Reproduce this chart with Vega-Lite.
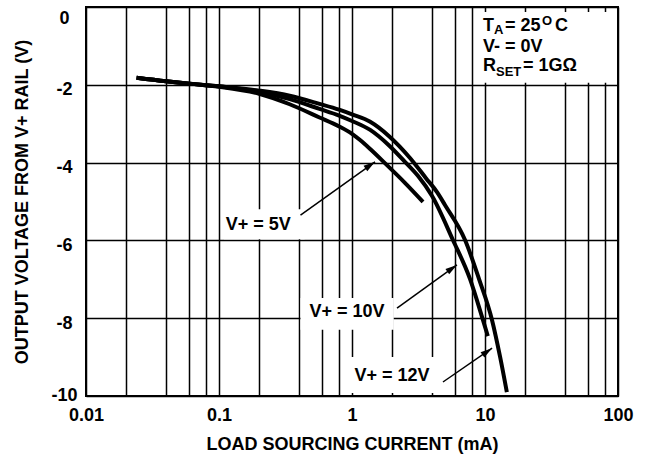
{
  "$schema": "https://vega.github.io/schema/vega-lite/v6.json",
  "width": 532,
  "height": 389,
  "autosize": "none",
  "padding": {"left": 86, "top": 7, "right": 28, "bottom": 62},
  "background": "white",
  "config": {
    "view": {"stroke": "black", "strokeWidth": 2},
    "font": "Liberation Sans"
  },
  "datasets": {
    "curves": [
      {"series": "12V", "x": 0.024, "y": -1.82}, {"series": "12V", "x": 0.04, "y": -1.91}, {"series": "12V", "x": 0.06, "y": -1.97}, {"series": "12V", "x": 0.1, "y": -2.04},
      {"series": "12V", "x": 0.2, "y": -2.15}, {"series": "12V", "x": 0.34, "y": -2.28}, {"series": "12V", "x": 0.57, "y": -2.49}, {"series": "12V", "x": 0.8, "y": -2.64}, {"series": "12V", "x": 1.0, "y": -2.76},
      {"series": "12V", "x": 1.37, "y": -2.95}, {"series": "12V", "x": 1.9, "y": -3.32}, {"series": "12V", "x": 2.73, "y": -3.88}, {"series": "12V", "x": 3.6, "y": -4.4}, {"series": "12V", "x": 4.36, "y": -4.76},
      {"series": "12V", "x": 5.0, "y": -5.09}, {"series": "12V", "x": 7.08, "y": -5.99}, {"series": "12V", "x": 9.01, "y": -6.99}, {"series": "12V", "x": 11.3, "y": -8.05}, {"series": "12V", "x": 13.0, "y": -9.0}, {"series": "12V", "x": 14.6, "y": -9.9},
      {"series": "10V", "x": 0.024, "y": -1.82}, {"series": "10V", "x": 0.04, "y": -1.91}, {"series": "10V", "x": 0.06, "y": -1.97}, {"series": "10V", "x": 0.1, "y": -2.04},
      {"series": "10V", "x": 0.2, "y": -2.18}, {"series": "10V", "x": 0.34, "y": -2.37}, {"series": "10V", "x": 0.57, "y": -2.62}, {"series": "10V", "x": 0.8, "y": -2.79}, {"series": "10V", "x": 1.0, "y": -2.93},
      {"series": "10V", "x": 1.37, "y": -3.16}, {"series": "10V", "x": 1.9, "y": -3.56}, {"series": "10V", "x": 2.5, "y": -3.98}, {"series": "10V", "x": 3.13, "y": -4.34}, {"series": "10V", "x": 4.0, "y": -4.86},
      {"series": "10V", "x": 5.74, "y": -5.99}, {"series": "10V", "x": 7.71, "y": -6.99}, {"series": "10V", "x": 9.66, "y": -8.05}, {"series": "10V", "x": 10.5, "y": -8.46},
      {"series": "5V", "x": 0.024, "y": -1.82}, {"series": "5V", "x": 0.04, "y": -1.91}, {"series": "5V", "x": 0.06, "y": -1.97}, {"series": "5V", "x": 0.1, "y": -2.05},
      {"series": "5V", "x": 0.2, "y": -2.23}, {"series": "5V", "x": 0.34, "y": -2.5}, {"series": "5V", "x": 0.57, "y": -2.84}, {"series": "5V", "x": 0.8, "y": -3.07}, {"series": "5V", "x": 1.0, "y": -3.26},
      {"series": "5V", "x": 1.15, "y": -3.42}, {"series": "5V", "x": 1.37, "y": -3.65}, {"series": "5V", "x": 1.8, "y": -4.04}, {"series": "5V", "x": 2.5, "y": -4.52}, {"series": "5V", "x": 3.42, "y": -5.01}
    ],
    "boxes": [
      {"x": 0.109, "x2": 0.44, "y": -5.2, "y2": -5.97},
      {"x": 0.41, "x2": 2.06, "y": -7.48, "y2": -8.3},
      {"x": 0.885, "x2": 4.21, "y": -9.0, "y2": -9.92},
      {"x": 8.7, "x2": 96, "y": -0.13, "y2": -1.95}
    ],
    "labels": [
      {"text": "V+ = 5V", "x": 0.197, "y": -5.6},
      {"text": "V+ = 10V", "x": 0.917, "y": -7.84},
      {"text": "V+ = 12V", "x": 2.0, "y": -9.49}
    ],
    "arrows": [
      {"x": 0.41, "y": -5.35, "x2": 1.49, "y2": -3.98},
      {"x": 2.18, "y": -7.74, "x2": 6.15, "y2": -6.63},
      {"x": 4.83, "y": -9.64, "x2": 11.3, "y2": -8.77}
    ],
    "legendMain": [
      {"text": "T", "x": 9.66, "y": -0.61},
      {"text": "= 25", "x": 14.14, "y": -0.61},
      {"text": "C", "x": 33.6, "y": -0.61},
      {"text": "V- = 0V", "x": 9.66, "y": -1.15},
      {"text": "R", "x": 9.66, "y": -1.64},
      {"text": "= 1GΩ", "x": 19.3, "y": -1.64}
    ],
    "legendSmall": [
      {"text": "A", "x": 11.69, "y": -0.7},
      {"text": "O", "x": 26.8, "y": -0.47},
      {"text": "SET", "x": 12.1, "y": -1.78}
    ]
  },
  "layer": [
    {
      "data": {"name": "boxes"},
      "mark": {"type": "rect", "fill": "white", "stroke": null},
      "encoding": {
        "x": {
          "field": "x", "type": "quantitative",
          "scale": {"type": "log", "domain": [0.01, 100]},
          "axis": {
            "values": [0.01, 0.02, 0.04, 0.06, 0.08, 0.1, 0.2, 0.4, 0.6, 0.8, 1, 2, 4, 6, 8, 10, 20, 40, 60, 80, 100],
            "labelExpr": "datum.value == 0.01 ? '0.01' : datum.value == 0.1 ? '0.1' : datum.value == 1 ? '1' : datum.value == 10 ? '10' : datum.value == 100 ? '100' : ''",
            "title": "LOAD SOURCING CURRENT (mA)",
            "grid": true, "gridColor": "black", "gridWidth": 1.5, "gridOpacity": 1,
            "domain": false, "ticks": false,
            "labelFont": "Liberation Sans", "labelFontSize": 18, "labelFontWeight": "bold", "labelColor": "black",
            "labelPadding": 10, "labelOverlap": false, "labelFlush": false,
            "titleFont": "Liberation Sans", "titleFontSize": 18, "titleFontWeight": "bold", "titleColor": "black", "titlePadding": 11
          }
        },
        "x2": {"field": "x2"},
        "y": {
          "field": "y", "type": "quantitative",
          "scale": {"domain": [-10, 0], "nice": false},
          "axis": {
            "values": [-10, -8, -6, -4, -2, 0],
            "labelExpr": "datum.value == 0 ? '0' : '-' + abs(datum.value)",
            "title": "OUTPUT VOLTAGE FROM V+ RAIL (V)",
            "grid": true, "gridColor": "black", "gridWidth": 1.5, "gridOpacity": 1,
            "domain": false, "ticks": false,
            "labelFont": "Liberation Sans", "labelFontSize": 18, "labelFontWeight": "bold", "labelColor": "black",
            "labelAlign": "center", "labelPadding": 22, "labelFlush": true, "labelFlushOffset": 3, "labelOffset": 5, "labelOverlap": false,
            "titleFont": "Liberation Sans", "titleFontSize": 18, "titleFontWeight": "bold", "titleColor": "black", "titlePadding": 19
          }
        },
        "y2": {"field": "y2"}
      }
    },
    {
      "data": {"name": "curves"},
      "mark": {"type": "line", "color": "black", "strokeWidth": 4, "interpolate": "monotone"},
      "encoding": {
        "x": {"field": "x", "type": "quantitative"},
        "y": {"field": "y", "type": "quantitative"},
        "detail": {"field": "series"}
      }
    },
    {
      "data": {"name": "arrows"},
      "mark": {"type": "rule", "color": "black", "strokeWidth": 1.5},
      "encoding": {
        "x": {"field": "x", "type": "quantitative"},
        "y": {"field": "y", "type": "quantitative"},
        "x2": {"field": "x2"},
        "y2": {"field": "y2"}
      }
    },
    {
      "data": {"name": "arrows"},
      "mark": {"type": "point", "shape": "M0,0L0.28,1L-0.28,1Z", "filled": true, "color": "black", "opacity": 1, "size": 550, "angle": 55},
      "encoding": {
        "x": {"field": "x2", "type": "quantitative"},
        "y": {"field": "y2", "type": "quantitative"}
      }
    },
    {
      "data": {"name": "labels"},
      "mark": {"type": "text", "font": "Liberation Sans", "fontSize": 18, "fontWeight": "bold", "color": "black", "align": "center", "baseline": "middle"},
      "encoding": {
        "x": {"field": "x", "type": "quantitative"},
        "y": {"field": "y", "type": "quantitative"},
        "text": {"field": "text"}
      }
    },
    {
      "data": {"name": "legendMain"},
      "mark": {"type": "text", "font": "Liberation Sans", "fontSize": 18, "fontWeight": "bold", "color": "black", "align": "left", "baseline": "alphabetic"},
      "encoding": {
        "x": {"field": "x", "type": "quantitative"},
        "y": {"field": "y", "type": "quantitative"},
        "text": {"field": "text"}
      }
    },
    {
      "data": {"name": "legendSmall"},
      "mark": {"type": "text", "font": "Liberation Sans", "fontSize": 13, "fontWeight": "bold", "color": "black", "align": "left", "baseline": "alphabetic"},
      "encoding": {
        "x": {"field": "x", "type": "quantitative"},
        "y": {"field": "y", "type": "quantitative"},
        "text": {"field": "text"}
      }
    }
  ]
}
